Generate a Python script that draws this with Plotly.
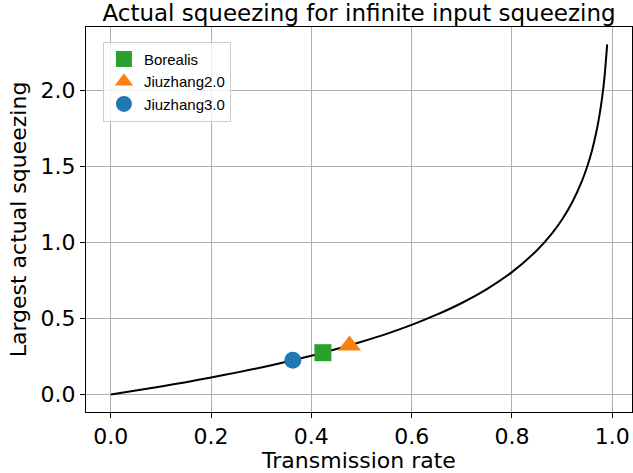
import plotly.graph_objects as go

# Curve: largest actual squeezing vs transmission rate
curve_x = [0.0, 0.05, 0.1, 0.15, 0.2, 0.25, 0.3, 0.35, 0.4, 0.45, 0.5, 0.55, 0.6,
           0.65, 0.7, 0.75, 0.8, 0.85, 0.88, 0.9, 0.92, 0.94, 0.95, 0.96, 0.97,
           0.975, 0.98, 0.985, 0.99]
curve_y = [0.0, 0.026, 0.053, 0.081, 0.112, 0.144, 0.178, 0.215, 0.255, 0.299,
           0.347, 0.399, 0.458, 0.525, 0.602, 0.693, 0.805, 0.949, 1.060, 1.151,
           1.263, 1.407, 1.498, 1.609, 1.753, 1.844, 1.956, 2.100, 2.303]

experiments = ["Borealis", "Jiuzhang2.0", "Jiuzhang3.0"]
exp_x = [0.423, 0.476, 0.363]
exp_y = [0.275, 0.323, 0.225]
exp_symbols = ["square", "triangle-up", "circle"]
exp_colors = ["#2ca02c", "#ff7f0e", "#1f77b4"]
exp_sizes = [17, 20, 17]

x_ticks = [0.0, 0.2, 0.4, 0.6, 0.8, 1.0]
y_ticks = [0.0, 0.5, 1.0, 1.5, 2.0]

FS = 22

fig = go.Figure()
fig.add_trace(go.Scatter(x=curve_x, y=curve_y, mode="lines",
                         line=dict(color="black", width=2, shape="spline", smoothing=0.6),
                         showlegend=False, hoverinfo="skip"))
for name, x, y, s, c, sz in zip(experiments, exp_x, exp_y, exp_symbols, exp_colors, exp_sizes):
    fig.add_trace(go.Scatter(x=[x], y=[y], mode="markers", name=name,
                             marker=dict(symbol=s, color=c, size=sz, line=dict(width=0))))

axis_common = dict(
    showline=True, linecolor="black", linewidth=1, mirror=True,
    ticks="outside", ticklen=5, tickwidth=1, tickcolor="black",
    showgrid=True, gridcolor="#b0b0b0", gridwidth=1, zeroline=False,
    tickfont=dict(family="DejaVu Sans", size=FS, color="black"),
)

fig.update_layout(
    width=633, height=473,
    margin=dict(l=86, r=1, t=27, b=61),
    paper_bgcolor="white", plot_bgcolor="white",
    title=dict(text="Actual squeezing for infinite input squeezing",
               x=0.5, xref="paper", y=1 - 13 / 473, yref="container",
               xanchor="center", yanchor="middle",
               font=dict(family="DejaVu Sans", size=FS + 1, color="black")),
    xaxis=dict(range=[-0.0495, 1.0395], tickvals=x_ticks,
               ticktext=[f"{v:.1f}" for v in x_ticks],
               title=dict(text="Transmission rate", standoff=5,
                          font=dict(family="DejaVu Sans", size=FS, color="black")),
               **axis_common),
    yaxis=dict(range=[-0.1151, 2.4177], tickvals=y_ticks,
               ticktext=[f"{v:.1f}" for v in y_ticks],
               title=dict(text="Largest actual squeezing", standoff=7,
                          font=dict(family="DejaVu Sans", size=FS, color="black")),
               **axis_common),
    legend=dict(x=0.031, y=0.962, xanchor="left", yanchor="top",
                bgcolor="rgba(255,255,255,0.8)", bordercolor="#cccccc", borderwidth=1,
                font=dict(family="Liberation Sans, Arial", size=15, color="black"),
                itemwidth=30, tracegroupgap=0),
)

fig.write_html("out.html")
